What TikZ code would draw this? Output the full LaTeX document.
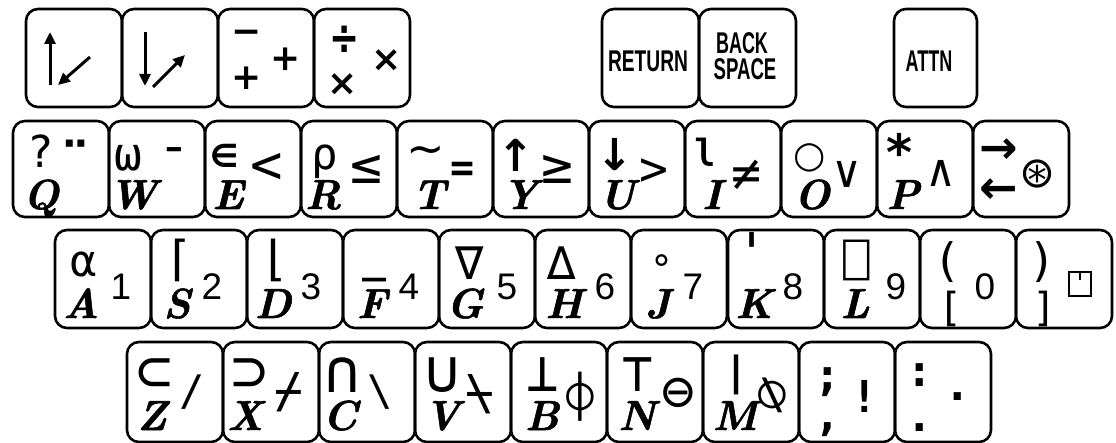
\documentclass[tikz,border=0pt]{standalone}
\usepackage{fontspec}
\usetikzlibrary{calc,arrows.meta}
\newfontfamily\symfont{DejaVu Sans Mono}
\newfontfamily\sbold{DejaVu Sans}
\newfontfamily\digfont{Liberation Sans}
\newfontfamily\capfont{Liberation Sans}
\newfontface\letface{lmroman10-bolditalic.otf}[FakeBold=1.3]
\newcommand\fs[2]{{\fontsize{#1}{#1}\selectfont #2}}
\newcommand\dg[1]{{\fontsize{37}{37}\digfont #1}}
\newcommand\bsy[2]{{\fontsize{#1}{#1}\sbold\bfseries #2}}
\newcommand\dv[2]{{\fontsize{#1}{#1}\sbold #2}}
\newcommand\cond[2]{\scalebox{#1}[1]{#2}}
\tikzset{
  keybox/.style={draw, line width=2.6pt, rounded corners=12pt, minimum width=96pt, minimum height=97pt, anchor=north west, inner sep=0pt, outer sep=0pt},
  sym/.style={anchor=center, inner sep=0pt, font=\fontsize{44}{44}\symfont},
  letsym/.style={anchor=base, inner sep=0pt, font=\fontsize{42}{42}\letface},
  capt/.style={anchor=center, inner sep=0pt, font=\fontsize{30}{30}\capfont\bfseries},
  glyph/.style={anchor=center, inner sep=0pt, font=\fontsize{36}{36}\sbold\bfseries},
  arr/.style={line width=3pt, -{Triangle[length=12pt,width=11pt]}},
}
\newcommand\kbk[4]{\node[keybox, minimum height=#4] (#1) at (#2,#3) {};}
\newcommand\kup[3]{\node[sym] (#1u) at ($(#1.north west)+(#2)$) {#3};}
\newcommand\klet[3]{\node[letsym] (#1l) at ($(#1.north west)+(#2,88)$) {#3};}
\newcommand\krt[3]{\node[sym] (#1r) at ($(#1.north west)+(#2)$) {#3};}
\begin{document}
\begin{tikzpicture}[x=1pt,y=-1pt]
\useasboundingbox (0,0) rectangle (1116,443);
% ---------- row 1
\node[keybox, minimum height=98] (k1) at (26,9) {};
\node[keybox, minimum height=98] (k2) at (122,9) {};
\node[keybox, minimum height=98] (k3) at (218,9) {};
\node[keybox, minimum height=98] (k4) at (314,9) {};
\node[keybox, minimum height=98, minimum width=97] (ret) at (602,9) {};
\node[keybox, minimum height=98, minimum width=97] (bsp) at (699,9) {};
\node[keybox, minimum height=98, minimum width=83] (attn) at (894,9) {};
\draw[arr] ($(k1.north west)+(24,76)$) -- ($(k1.north west)+(24,23)$);
\draw[arr] ($(k1.north west)+(64,48)$) -- ($(k1.north west)+(32,76)$);
\draw[arr] ($(k2.north west)+(23,23)$) -- ($(k2.north west)+(23,77)$);
\draw[arr] ($(k2.north west)+(31,78)$) -- ($(k2.north west)+(63,46)$);
\node[glyph] (k3a) at ($(k3.north west)+(29,28)$) {−};
\node[glyph] (k3b) at ($(k3.north west)+(29,69)$) {+};
\node[glyph] (k3c) at ($(k3.north west)+(68,50)$) {+};
\node[glyph] (k4a) at ($(k4.north west)+(31,31)$) {\scalebox{1}[1.35]{÷}};
\node[glyph] (k4b) at ($(k4.north west)+(29,76)$) {×};
\node[glyph] (k4c) at ($(k4.north west)+(73,52)$) {×};
\node[capt] (retT) at ($(ret.north west)+(46,52)$) {\cond{0.64}{RETURN}};
\node[capt] (bspT1) at ($(bsp.north west)+(43,34)$) {\cond{0.6}{BACK}};
\node[capt] (bspT2) at ($(bsp.north west)+(46,60)$) {\cond{0.62}{SPACE}};
\node[capt] (attnT) at ($(attn.north west)+(35,52)$) {\cond{0.6}{ATTN}};
% ---------- row 2
\kbk{kQ}{13}{121}{96} \kup{kQ}{28,30}{?} \klet{kQ}{28}{Q} \krt{kQ}{63,42}{\fs{60}{\bfseries ¨}}
\kbk{kW}{109}{121}{96} \kup{kW}{19,37}{\fs{46}{ω}} \klet{kW}{24}{W} \krt{kW}{65,44}{\fs{46}{\bfseries ¯}}
\kbk{kE}{205}{121}{96} \kup{kE}{20,37}{\fs{50}{∊}} \klet{kE}{23}{E} \krt{kE}{62,47}{\fs{54}{<}}
\kbk{kR}{301}{121}{96} \kup{kR}{24,41}{ρ} \klet{kR}{22}{R} \krt{kR}{65,48}{\fs{53}{≤}}
\kbk{kT}{397}{121}{96} \kup{kT}{29,34}{\dv{46}{∼}} \klet{kT}{32}{T} \krt{kT}{66,51}{\fs{40}{\bfseries =}}
\kbk{kY}{493}{121}{96} \kup{kY}{23,34}{\bsy{44}{↑}} \klet{kY}{27}{Y} \krt{kY}{64,48}{\fs{53}{≥}}
\kbk{kU}{589}{121}{96} \kup{kU}{26,34}{\bsy{44}{↓}} \klet{kU}{28}{U} \krt{kU}{65,51}{\fs{48}{>}}
\kbk{kI}{685}{121}{96} \kup{kI}{19,31}{\fs{52}{⍳}} \klet{kI}{27}{I} \krt{kI}{62,54}{\fs{50}{≠}}
\kbk{kO}{781}{121}{96} \kup{kO}{29,37}{\dv{37}{○}} \klet{kO}{31}{O} \krt{kO}{66,53}{\fs{45}{∨}}
\kbk{kP}{877}{121}{96} \kup{kP}{23,31}{\fs{50}{\bfseries *}} \klet{kP}{26}{P} \krt{kP}{64,52}{\fs{45}{∧}}
\kbk{kAr}{973}{121}{96} \kup{kAr}{26,30}{\bsy{46}{→}} \krt{kAr}{65,53}{\dv{43}{⊛}}
\node[sym] (kArl) at ($(kAr.north west)+(26,70)$) {\bsy{46}{←}};
% ---------- row 3
\kbk{kA}{55}{230}{98} \kup{kA}{29,34}{\fs{44}{⍺}} \klet{kA}{26}{A} \krt{kA}{66,57}{\dg{1}}
\kbk{kS}{151}{230}{98} \kup{kS}{28,30}{\fs{48}{⌈}} \klet{kS}{26}{S} \krt{kS}{61,57}{\dg{2}}
\kbk{kD}{247}{230}{98} \kup{kD}{28,30}{\fs{48}{⌊}} \klet{kD}{26}{D} \krt{kD}{64,57}{\dg{3}}
\kbk{kF}{343}{230}{98} \kup{kF}{32,47}{\fs{40}{\bfseries \_}} \klet{kF}{29}{F} \krt{kF}{66,57}{\dg{4}}
\kbk{kG}{439}{230}{98} \kup{kG}{31,33}{\fs{47}{∇}} \klet{kG}{26}{G} \krt{kG}{68,57}{\dg{5}}
\kbk{kH}{535}{230}{98} \kup{kH}{27,33}{\fs{47}{∆}} \klet{kH}{29}{H} \krt{kH}{70,57}{\dg{6}}
\kbk{kJ}{631}{230}{98} \kup{kJ}{31,34}{\fs{38}{∘}} \klet{kJ}{27}{J} \krt{kJ}{62,57}{\dg{7}}
\kbk{kK}{728}{230}{98} \kup{kK}{24,22}{\fs{55}{'}} \klet{kK}{26}{K} \krt{kK}{65,57}{\dg{8}}
\kbk{kL}{824}{230}{98} \kup{kL}{33,30}{\fs{44}{⎕}} \klet{kL}{31}{L} \krt{kL}{72,57}{\dg{9}}
\kbk{kLb}{920}{230}{98} \kup{kLb}{27,32}{\fs{46}{(}} \krt{kLb}{65,57}{\dg{0}}
\node[sym] (kLbl) at ($(kLb.north west)+(31,79)$) {\fs{40}{[}};
\kbk{kRb}{1016}{230}{98} \kup{kRb}{26,32}{\fs{46}{)}}
\node[sym] (kRbl) at ($(kRb.north west)+(29,79)$) {\fs{40}{]}};
\node[draw, line width=2.6pt, minimum width=22pt, minimum height=24pt, inner sep=0pt] (kRbr) at ($(kRb.north west)+(64,54)$) {};
\draw[line width=2.6pt] (kRbr.north) -- ++(0,9);
% ---------- row 4
\kbk{kZ}{127}{342}{100} \kup{kZ}{28,33}{\fs{60}{⊂}} \klet{kZ}{25}{Z} \krt{kZ}{65,50}{\fs{42}{/}}
\kbk{kX}{223}{342}{100} \kup{kX}{27,33}{\fs{60}{⊃}} \klet{kX}{22}{X} \krt{kX}{66,50}{\fs{48}{⌿}}
\kbk{kC}{319}{342}{100} \kup{kC}{24,33}{\fs{60}{∩}} \klet{kC}{21}{C} \krt{kC}{61,50}{\fs{42}{\textbackslash}}
\kbk{kV}{415}{342}{100} \kup{kV}{28,33}{\fs{60}{∪}} \klet{kV}{27}{V} \krt{kV}{65,52}{\fs{48}{⍀}}
\kbk{kB}{511}{342}{100} \kup{kB}{32,33}{\fs{54}{⊥}} \klet{kB}{31}{B} \krt{kB}{69,55}{\fs{46}{⌽}}
\kbk{kN}{607}{342}{100} \kup{kN}{31,33}{\fs{54}{⊤}} \klet{kN}{30}{N} \krt{kN}{71,52}{\fs{56}{⊖}}
\kbk{kM}{703}{342}{100} \kup{kM}{34,33}{\fs{40}{\bfseries ∣}} \klet{kM}{32}{M} \krt{kM}{69,53}{\fs{46}{⍉}}
\kbk{kSc}{799}{342}{100} \kup{kSc}{29,40}{\fs{44}{\bfseries ;}} \krt{kSc}{66,54}{\fs{44}{\bfseries !}}
\node[sym] (kScl) at ($(kSc.north west)+(29,88)$) {\fs{44}{\bfseries ,}};
\kbk{kCo}{895}{342}{100} \kup{kCo}{25,33}{\fs{44}{\bfseries :}} \krt{kCo}{63,55}{\fs{44}{\bfseries .}}
\node[sym] (kCol) at ($(kCo.north west)+(25,86)$) {\fs{44}{\bfseries .}};
\end{tikzpicture}
\end{document}
